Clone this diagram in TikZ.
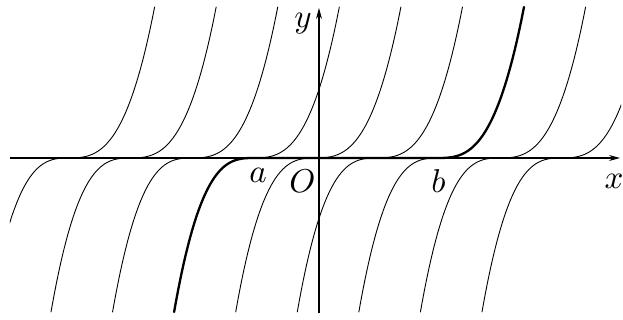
\documentclass[tikz,border=0pt]{standalone}
\usetikzlibrary{arrows.meta}
\tikzset{
  thincurve/.style={line width=0.9pt, line cap=round},
  boldcurve/.style={line width=2.3pt, line cap=round},
  axisline/.style={line width=1.1pt, -{Stealth[length=11pt,width=6pt]}},
  lbl/.style={inner sep=0pt, scale=3.3}
}
\begin{document}
\begin{tikzpicture}[x=1pt,y=1pt]
\useasboundingbox (-319,-162) rectangle (304,158);
\begin{scope}
\clip (-309,-162) rectangle (302,158);
% upper branches y = A (x-c)^3, x >= c
\foreach \k in {0,...,8}{
  \pgfmathsetmacro\cc{-252.4+61.57*\k}
  \draw[thincurve] plot[domain=0:88, samples=60] ({\cc+\x},{151*(\x/88)^3});
}
% lower branches y = A (x-d)^3, x <= d
\foreach \j in {-1,...,7}{
  \pgfmathsetmacro\dd{-187+61.57*\j}
  \draw[thincurve] plot[domain=0:81, samples=60] ({\dd-\x},{-154*(\x/81)^3});
}
% bold solution
\draw[boldcurve] plot[domain=81:0, samples=60] ({-63.9-\x},{-154*(\x/81)^3})
   -- plot[domain=0:88, samples=60] ({117+\x},{151*(\x/88)^3});
\end{scope}
% axes
\coordinate (xs) at (-309,0);
\coordinate (xe) at (301,0);
\coordinate (ys) at (0,-155);
\coordinate (ye) at (0,150);
\draw[axisline] (xs) -- (xe);
\draw[axisline] (ys) -- (ye);
% labels
\node[lbl] (la) at (-61,-17) {$a$};
\node[lbl] (lO) at (-16.5,-23.5) {$O$};
\node[lbl] (lb) at (119.5,-23) {$b$};
\node[lbl] (lx) at (295,-23) {$x$};
\node[lbl] (ly) at (-16,134) {$y$};
\end{tikzpicture}
\end{document}
